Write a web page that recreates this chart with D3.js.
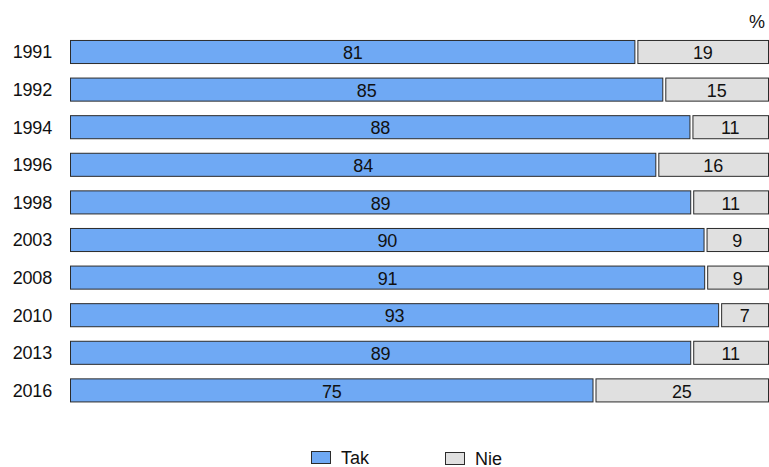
<!DOCTYPE html>
<html lang="pl">
<head>
<meta charset="UTF-8">
<title>Tak / Nie</title>
<style>
  body { margin: 0; background: #fff; }
  text { font-family: "Liberation Sans", Arial, sans-serif; fill: #111; }
</style>
</head>
<body>
<svg id="svg" width="769" height="467"></svg>
<script src="https://d3js.org/d3.v7.min.js"></script>
<script>
  const years = ['1991', '1992', '1994', '1996', '1998', '2003', '2008', '2010', '2013', '2016']
  const tak = [81, 85, 88, 84, 89, 90, 91, 93, 89, 75]
  const nie = [19, 15, 11, 16, 11, 9, 9, 7, 11, 25]
  const seriesNames = ['Tak', 'Nie']
  const colors = ['#6fa9f4', '#e0e0e0']

  const svg = d3.select('#svg')

  // rows -- each bar is normalised to 100%
  const rows = years.map((y, i) => {
    const total = tak[i] + nie[i]
    return { year: y, tak: tak[i], nie: nie[i], total }
  })

  const y = d3.scaleBand()
    .domain(years)
    .range([33.2, 409.2])
    .paddingInner(0.36)
    .paddingOuter(0.18)

  const x = d3.scaleLinear().domain([0, 1]).range([70, 768])

  // year labels
  svg.selectAll('.year')
    .data(rows)
    .join('text')
    .attr('class', 'year')
    .attr('x', 52)
    .attr('y', d => y(d.year) + y.bandwidth() / 2)
    .attr('dy', '0.36em')
    .attr('text-anchor', 'end')
    .attr('font-size', 18)
    .attr('letter-spacing', -0.2)
    .text(d => d.year)

  // segments
  const segs = []
  rows.forEach(r => {
    const a = r.tak / r.total
    segs.push({ year: r.year, x0: 0, x1: a, v: r.tak, k: 0 })
    segs.push({ year: r.year, x0: a, x1: 1, v: r.nie, k: 1 })
  })

  svg.selectAll('.seg')
    .data(segs)
    .join('rect')
    .attr('class', 'seg')
    .attr('x', d => x(d.x0) + (d.k === 1 ? 2 : 0) + 0.5)
    .attr('y', d => y(d.year) + 0.5)
    .attr('width', d => x(d.x1) - x(d.x0) - (d.k === 1 ? 2 : 1))
    .attr('height', y.bandwidth() - 1)
    .attr('fill', d => colors[d.k])
    .attr('stroke', '#2b2b2b')
    .attr('stroke-width', 1)

  svg.selectAll('.val')
    .data(segs)
    .join('text')
    .attr('class', 'val')
    .attr('x', d => (x(d.x0) + x(d.x1)) / 2 + (d.k === 1 ? 1 : 0))
    .attr('y', d => y(d.year) + y.bandwidth() / 2)
    .attr('dy', '0.4em')
    .attr('text-anchor', 'middle')
    .attr('font-size', 18)
    .attr('letter-spacing', -0.2)
    .text(d => d.v)

  // percent sign
  svg.append('text')
    .attr('x', 765)
    .attr('y', 28)
    .attr('text-anchor', 'end')
    .attr('font-size', 18)
    .text('%')

  // legend
  const legX = [311, 445]
  const leg = svg.selectAll('.leg')
    .data(seriesNames)
    .join('g')
    .attr('class', 'leg')
    .attr('transform', (d, i) => `translate(${legX[i]}, ${i === 0 ? 451 : 452})`)
  leg.append('rect')
    .attr('x', 0.5).attr('y', 0.5)
    .attr('width', 19).attr('height', 12)
    .attr('fill', (d, i) => colors[i])
    .attr('stroke', '#2b2b2b')
  leg.append('text')
    .attr('x', 30)
    .attr('y', 12.5)
    .attr('font-size', 18)
    .text(d => d)
</script>
</body>
</html>
